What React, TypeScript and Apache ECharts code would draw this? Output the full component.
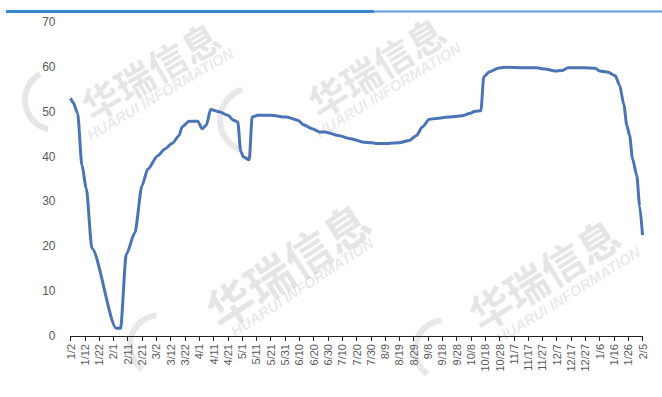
import React, { useEffect, useRef } from "react";
import * as echarts from "echarts";

const START = Date.UTC(2020, 0, 2);

const dates: string[] = [
  "2020-01-02", "2020-01-04", "2020-01-07", "2020-01-10", "2020-01-13", "2020-01-17",
  "2020-02-03", "2020-02-06", "2020-02-10", "2020-02-16", "2020-02-21", "2020-02-25",
  "2020-03-03", "2020-03-08", "2020-03-13", "2020-03-18", "2020-03-20", "2020-03-25",
  "2020-03-31", "2020-04-03", "2020-04-06", "2020-04-09", "2020-04-15", "2020-04-21",
  "2020-04-25", "2020-04-28", "2020-04-30", "2020-05-02", "2020-05-06", "2020-05-08",
  "2020-05-12", "2020-05-21", "2020-06-01", "2020-06-09", "2020-06-13", "2020-06-19",
  "2020-06-24", "2020-06-28", "2020-07-07", "2020-07-16", "2020-07-25", "2020-07-31",
  "2020-08-03", "2020-08-11", "2020-08-19", "2020-08-26", "2020-08-31", "2020-09-04",
  "2020-09-09", "2020-09-14", "2020-09-22", "2020-10-02", "2020-10-07", "2020-10-11",
  "2020-10-15", "2020-10-17", "2020-10-21", "2020-10-27", "2020-11-01", "2020-11-14",
  "2020-11-23", "2020-11-29", "2020-12-06", "2020-12-11", "2020-12-15", "2020-12-26",
  "2021-01-03", "2021-01-06", "2021-01-12", "2021-01-17", "2021-01-20", "2021-01-23",
  "2021-01-25", "2021-01-27", "2021-01-29", "2021-02-01", "2021-02-03", "2021-02-05",
];

const values: number[] = [
  53.0, 52.0, 49.6, 38.0, 33.0, 19.5,
  1.7, 1.7, 18.2, 23.0, 33.5, 37.2,
  40.2, 41.7, 42.9, 44.7, 46.6, 47.9,
  47.9, 46.2, 47.0, 50.5, 50.0, 49.2,
  48.1, 47.7, 41.2, 39.9, 39.3, 48.8,
  49.2, 49.2, 48.8, 48.1, 47.1, 46.2,
  45.5, 45.5, 44.7, 44.0, 43.2, 43.1,
  42.9, 42.9, 43.1, 43.6, 44.7, 46.6,
  48.3, 48.5, 48.8, 49.1, 49.6, 50.1,
  50.2, 57.8, 58.9, 59.7, 59.9, 59.8,
  59.8, 59.5, 59.1, 59.2, 59.8, 59.8,
  59.7, 59.1, 58.8, 58.0, 55.9, 51.5,
  47.0, 44.7, 39.5, 35.8, 29.0, 22.5,
];

const xTickDays = 10;
const xMaxDays = 400;
const yTicks = [0, 10, 20, 30, 40, 50, 60, 70];

const dayIndex = (s: string) => {
  const [y, m, d] = s.split("-").map(Number);
  return Math.round((Date.UTC(y, m - 1, d) - START) / 86400000);
};

const dayLabel = (v: number) => {
  const dt = new Date(START + v * 86400000);
  return `${dt.getUTCMonth() + 1}/${dt.getUTCDate()}`;
};

const wmText = (x: number, y: number, ex: number, ey: number, rot: number, size: number) => [
  {
    type: "text",
    x,
    y,
    rotation: rot,
    z: 0,
    style: {
      text: "华瑞信息",
      font: `bold ${size}px "Noto Sans CJK SC"`,
      fill: "rgba(140,140,150,0.22)",
      align: "center",
      verticalAlign: "middle",
    },
  },
  {
    type: "text",
    x: ex,
    y: ey,
    rotation: rot,
    z: 0,
    style: {
      text: "HUARUI INFORMATION",
      font: `italic bold 15px "Liberation Sans"`,
      fill: "rgba(140,140,150,0.2)",
      align: "center",
      verticalAlign: "middle",
    },
  },
];

export default function App() {
  const ref = useRef<HTMLDivElement>(null);
  useEffect(() => {
    if (!ref.current) return;
    const chart = echarts.init(ref.current, undefined, { renderer: "svg" });
    const data = dates.map((d, i) => [dayIndex(d), values[i]]);
    chart.setOption({
      animation: false,
      backgroundColor: "#ffffff",
      grid: { left: 70.5, right: 19.5, top: 22, bottom: 61 },
      xAxis: {
        type: "value",
        min: 0,
        max: xMaxDays,
        interval: xTickDays,
        axisLine: { show: true, lineStyle: { color: "#222", width: 1 } },
        axisTick: { show: true, length: 5, lineStyle: { color: "#222" } },
        splitLine: { show: false },
        axisLabel: {
          rotate: 90,
          margin: 8,
          fontSize: 11,
          color: "#595959",
          fontFamily: "Liberation Sans",
          showMinLabel: true,
          showMaxLabel: true,
          formatter: (v: number) => dayLabel(v),
        },
      },
      yAxis: {
        type: "value",
        min: yTicks[0],
        max: yTicks[yTicks.length - 1],
        interval: 10,
        axisLine: { show: false },
        axisTick: { show: false },
        splitLine: { show: false },
        axisLabel: {
          margin: 15,
          fontSize: 12,
          color: "#595959",
          fontFamily: "Liberation Sans",
        },
      },
      graphic: [
        { type: "rect", shape: { x: 6, y: 10, width: 368, height: 3 }, style: { fill: "#3a88d2" }, z: 10 },
        { type: "rect", shape: { x: 374, y: 10.5, width: 290, height: 2 }, style: { fill: "#5d9fdc" }, z: 10 },
        ...wmText(150, 70, 160, 94, 0.53, 38),
        ...wmText(376, 66, 388, 90, 0.55, 38),
        ...wmText(287, 264, 302, 287, 0.58, 46),
        ...wmText(543, 273, 568, 295, 0.56, 42),
        { type: "arc", shape: { cx: 55, cy: 100, r: 30, startAngle: 1.8, endAngle: 4.2 }, style: { stroke: "rgba(140,140,150,0.22)", lineWidth: 6, fill: "none" }, z: 0 },
        { type: "arc", shape: { cx: 252, cy: 120, r: 32, startAngle: 1.9, endAngle: 4.4 }, style: { stroke: "rgba(140,140,150,0.2)", lineWidth: 6, fill: "none" }, z: 0 },
        { type: "arc", shape: { cx: 160, cy: 345, r: 30, startAngle: 2.2, endAngle: 4.6 }, style: { stroke: "rgba(140,140,150,0.2)", lineWidth: 6, fill: "none" }, z: 0 },
        { type: "arc", shape: { cx: 445, cy: 350, r: 30, startAngle: 2.2, endAngle: 4.6 }, style: { stroke: "rgba(140,140,150,0.2)", lineWidth: 6, fill: "none" }, z: 0 },
      ],
      series: [
        {
          type: "line",
          data,
          showSymbol: false,
          smooth: 0.25,
          smoothMonotone: "x",
          lineStyle: { color: "#4a74b6", width: 3 },
          itemStyle: { color: "#4a74b6" },
          z: 5,
        },
      ],
    });
    return () => chart.dispose();
  }, []);
  return (
    <div
      ref={ref}
      style={{ position: "fixed", left: 0, top: 0, width: 662, height: 397, background: "#fff" }}
    />
  );
}
